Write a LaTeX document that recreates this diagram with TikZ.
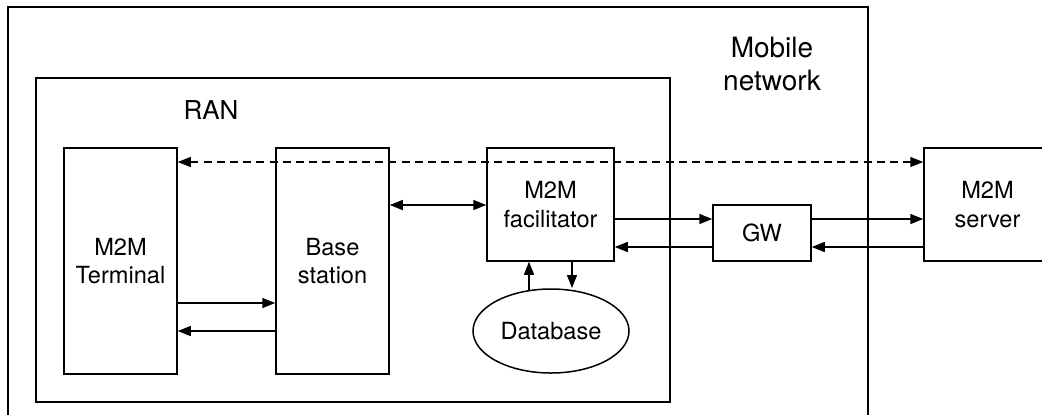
\documentclass[tikz,border=0pt]{standalone}
\usepackage{fontspec}
\setmainfont{TeX Gyre Heros}
\usetikzlibrary{arrows.meta,shapes.geometric}
\begin{document}
\begin{tikzpicture}[x=0.5pt,y=-0.5pt,
  box/.style={draw,line width=0.75pt,inner sep=0pt,align=center,
    font=\fontsize{11.8}{14.2}\selectfont},
  lbl/.style={inner sep=0pt,align=center,font=\fontsize{13}{16.3}\selectfont},
  conn/.style={line width=0.75pt,-{Triangle[length=6.5pt,width=5pt]}},
  biconn/.style={line width=0.75pt,{Triangle[length=6.5pt,width=5pt]}-{Triangle[length=6.5pt,width=5pt]}}]
\useasboundingbox (0,0) rectangle (1042,414);
\clip (0,0) rectangle (1042,414);
% frames
\draw[line width=0.75pt] (8,440) -- (8,7) -- (868,7) -- (868,440);
\draw[line width=0.75pt] (36,78) rectangle (670,402);
\node[lbl,font=\fontsize{14}{16.3}\selectfont] (mob) at (772,64) {Mobile\\network};
\node[lbl] (ran) at (211,110) {RAN};
% nodes
\node[box,minimum width=56.5pt,minimum height=113pt] (term) at (120.5,261) {M2M\\Terminal};
\node[box,minimum width=56.5pt,minimum height=113pt] (base) at (332.5,261) {Base\\station};
\node[box,minimum width=63.5pt,minimum height=56.5pt] (fac) at (550.5,204.5) {M2M\\facilitator};
\node[box,minimum width=49pt,minimum height=28pt] (gw) at (762,233) {GW};
\node[box,minimum width=63.5pt,minimum height=56.5pt] (srv) at (987.5,204.5) {M2M\\server};
\node[box,ellipse,minimum width=78pt,minimum height=42pt] (db) at (551,331) {Database};
% connectors
\draw[biconn,dashed,dash pattern=on 4pt off 2.6pt] (term.east |- 0,162) -- (srv.west |- 0,162);
\draw[biconn] (base.east |- 0,205) -- (fac.west |- 0,205);
\draw[conn] (term.east |- 0,303) -- (base.west |- 0,303);
\draw[conn] (base.west |- 0,331) -- (term.east |- 0,331);
\draw[conn] (fac.east |- 0,219) -- (gw.west |- 0,219);
\draw[conn] (gw.west |- 0,247) -- (fac.east |- 0,247);
\draw[conn] (gw.east |- 0,219) -- (srv.west |- 0,219);
\draw[conn] (srv.west |- 0,247) -- (gw.east |- 0,247);
\draw[conn] (db.north -| 529,0) ++(0,1.5) -- (fac.south -| 529,0);
\draw[conn] (fac.south -| 572,0) -- (572,288);
\end{tikzpicture}
\end{document}
